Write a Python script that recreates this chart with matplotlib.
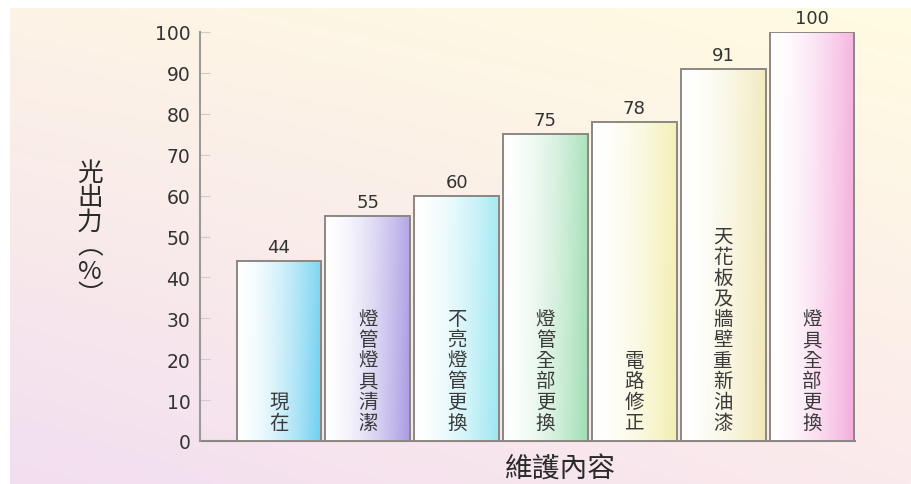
import numpy as np
import matplotlib
matplotlib.use("Agg")
import matplotlib.pyplot as plt
from matplotlib.colors import to_rgb

# ---- data ----
categories = ["現在", "燈管燈具清潔", "不亮燈管更換", "燈管全部更換",
              "電路修正", "天花板及牆壁重新油漆", "燈具全部更換"]
values = [44, 55, 60, 75, 78, 91, 100]
bar_colors = ["#6ccff0", "#a99be2", "#9ce7f2", "#a0deb4",
              "#f3eeae", "#f0e8b6", "#f4aadb"]
y_ticks = [0, 10, 20, 30, 40, 50, 60, 70, 80, 90, 100]
y_label = "光\n出\n力\n︵\n%\n︶"
x_label = "維護內容"

CJK = ["Noto Sans CJK TC", "DejaVu Sans"]
plt.rcParams["font.family"] = CJK

W, H = 912, 485
fig = plt.figure(figsize=(W / 100, H / 100), dpi=100)
fig.patch.set_facecolor("white")

# ---- background gradient ----
bg = fig.add_axes([10 / W, 0, 1 - 10 / W, 1 - 9 / H], zorder=-10)
bg.set_axis_off()
tl, tr = np.array(to_rgb("#fdf3e6")), np.array(to_rgb("#fffce2"))
bl, br = np.array(to_rgb("#f2def0")), np.array(to_rgb("#fbeaec"))
u = np.linspace(0, 1, 200)[None, :, None]
v = np.linspace(0, 1, 120)[:, None, None]
img = (1 - v) * ((1 - u) * tl + u * tr) + v * ((1 - u) * bl + u * br)
bg.imshow(img, aspect="auto", extent=[0, 1, 0, 1], origin="upper")
bg.set_xlim(0, 1)
bg.set_ylim(0, 1)

# ---- main axes ----
left, right, bottom, top = 200, 855, 442, 33
ax = fig.add_axes([left / W, 1 - bottom / H, (right - left) / W, (bottom - top) / H])
ax.patch.set_alpha(0)

x = np.arange(len(categories))
bars = ax.bar(x, values, width=0.955, facecolor="none",
              edgecolor="#8c8782", linewidth=1.4, zorder=4)

white = np.array([1.0, 1.0, 1.0])
t = np.linspace(0, 1, 100)
for patch, col in zip(bars.patches, bar_colors):
    c = np.array(to_rgb(col))
    f = t ** 1.6
    row = white[None, :] * (1 - f[:, None]) + c[None, :] * f[:, None]
    vv = np.linspace(0, 1, 60)[:, None, None]
    grad = row[None, :, :] * (1 - 0.12 * (1 - vv)) + white * 0.12 * (1 - vv)
    x0 = patch.get_x()
    ax.imshow(grad, extent=[x0, x0 + patch.get_width(), 0, patch.get_height()],
              aspect="auto", origin="upper", zorder=3)

ax.set_xlim(-0.889, 6.484)
ax.set_ylim(0, 100)

for xi, val, cat in zip(x, values, categories):
    ax.text(xi, val + 1.2, str(val), ha="center", va="bottom",
            fontsize=13, color="#333333", family="DejaVu Sans", zorder=5, clip_on=False)
    ax.text(xi, 2.0, "\n".join(cat), ha="center", va="bottom",
            fontsize=14, color="#3a3a3a", linespacing=0.98, zorder=5)

for s in ["top", "right"]:
    ax.spines[s].set_visible(False)
ax.spines["left"].set_color("#9a9a9a")
ax.spines["left"].set_linewidth(1.5)
ax.spines["bottom"].set_color("#8c8782")
ax.spines["bottom"].set_linewidth(1.5)
ax.spines["left"].set_zorder(6)

ax.set_xticks([])
ax.set_yticks(y_ticks)
ax.set_yticklabels([str(v) for v in y_ticks], family="DejaVu Sans",
                   fontsize=13.5, color="#333333")
ax.tick_params(axis="y", direction="in", length=7, width=0.8,
               color="#d0ccc8", pad=7)

fig.text(90 / W, 1 - 235 / H, y_label, ha="center", va="center",
         fontsize=18.5, color="#2a2a2a", linespacing=0.92, multialignment="center")
fig.text(560 / W, 1 - 455 / H, x_label, ha="center", va="top",
         fontsize=20, color="#2a2a2a")

fig.savefig("out.png", dpi=100, facecolor=fig.get_facecolor())
